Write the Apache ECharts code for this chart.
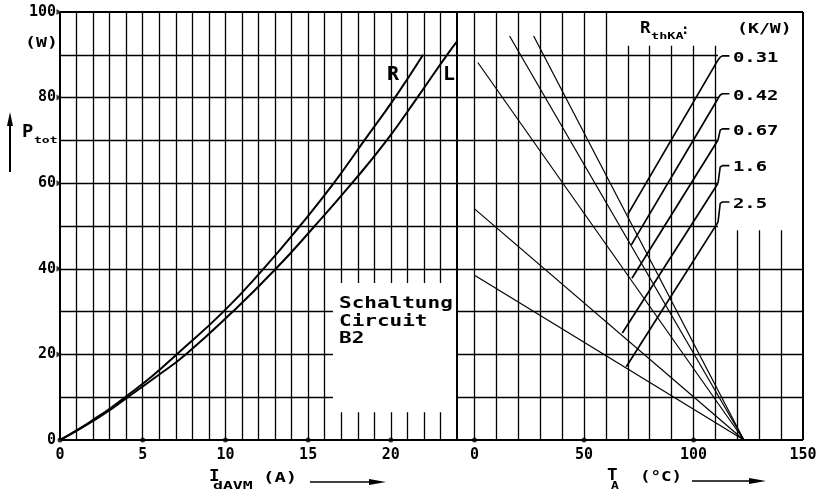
<!DOCTYPE html>
<html>
<head>
<meta charset="utf-8">
<script src="https://cdn.jsdelivr.net/npm/echarts@6/dist/echarts.min.js"></script>
<style>
html, body { margin: 0; padding: 0; background: #fff; }
#myChart { width: 822px; height: 491px; }
</style>
</head>
<body>
<div id="myChart"></div>
<script>
// Achsenteilung
const iTicks = [0, 5, 10, 15, 20]
const tTicks = [0, 50, 100, 150]
const pTicks = [0, 20, 40, 60, 80, 100]

// P_tot (W) über I_dAVM (A), Schaltung B2
const curveR = [[0, 0], [1, 2.25], [2, 4.7], [3, 7.3], [3.93, 10], [5.6, 15], [7.05, 20], [9.88, 30], [12.3, 40], [14.5, 50], [16.55, 60], [18.4, 70], [20.25, 80], [21.95, 90]]
const curveL = [[0, 0], [1, 2.15], [2, 4.45], [3, 6.95], [3.95, 9.6], [5.75, 14.6], [7.6, 20], [10.45, 30], [13.05, 40], [15.4, 50], [17.65, 60], [19.75, 70], [21.6, 80], [23.4, 90], [24.2, 94.1]]

// P_tot (W) über T_A (°C) für R_thKA
const rthKA = ['0.31', '0.42', '0.67', '1.6', '2.5']
const sinkStart = [[27, 94.4], [16, 94.4], [1.5, 88.2], [0, 54.0], [0, 38.5]]
const sinkEnd = [123, 0]
const leaderFrom = [[70, 52.7], [71.6, 45.6], [71.9, 37.8], [67.5, 25.0], [69.3, 17.1]]
const leaderTo = [[111.2, 88.8], [111.2, 79.8], [111.2, 70.1], [111.2, 60.0], [111.2, 50.9]]
const labelP = [89.25, 80.4, 72.2, 63.6, 55.1]

const ink = '#000'
const mono = '"DejaVu Sans Mono", monospace'

function seg (a, b) { return { coords: [a, b] } }

// Gitter links
const leftGrid = []
for (let i = 1; i <= 23; i++) {
  if (i >= 17) {
    leftGrid.push(seg([i, 0], [i, 6.5]), seg([i, 36.7], [i, 100]))
  } else {
    leftGrid.push(seg([i, 0], [i, 100]))
  }
}
for (let p = 10; p <= 90; p += 10) {
  leftGrid.push(seg([0, p], [p <= 30 ? 16.5 : 24, p]))
}
const leftFrame = [seg([0, 0], [24, 0]), seg([0, 0], [0, 100]), seg([0, 100], [24, 100]), seg([24, 0], [24, 100])]

// Gitter rechts
const rightGrid = []
for (let t = 0; t <= 140; t += 10) {
  let top = t <= 60 ? 100 : (t <= 110 ? 92.1 : 49)
  rightGrid.push(seg([t, 0], [t, top]))
}
for (let p = 10; p <= 90; p += 10) {
  rightGrid.push(seg([-8, p], [p <= 40 ? 150 : 111.2, p]))
}
const rightFrame = [seg([-8, 0], [150, 0]), seg([-8, 100], [150, 100]), seg([150, 0], [150, 100])]

function gridLines (data, xi, width) {
  return {
    type: 'lines', coordinateSystem: 'cartesian2d', xAxisIndex: xi, yAxisIndex: xi,
    silent: true, data: data,
    lineStyle: { color: ink, width: width, opacity: 1, curveness: 0 }
  }
}

function txt (s, x, y, size, sx) {
  return {
    type: 'text', x: x, y: y, scaleX: sx || 1.35, silent: true,
    style: { text: s, font: 'bold ' + size + 'px ' + mono, fill: ink, align: 'left', verticalAlign: 'middle' }
  }
}

let axisFont = { color: ink, fontFamily: mono, fontWeight: 'bold', fontSize: 15 }

let myChart = echarts.init(document.getElementById('myChart'))
myChart.setOption({
  animation: false,
  backgroundColor: '#fff',
  grid: [
    { left: 60, top: 12, width: 397, height: 428 },
    { left: 457, top: 12, width: 346, height: 428 }
  ],
  xAxis: [
    {
      gridIndex: 0, type: 'value', min: 0, max: 24,
      axisLine: { show: false }, axisTick: { show: false }, splitLine: { show: false },
      axisLabel: Object.assign({ customValues: iTicks, margin: 8 }, axisFont)
    },
    {
      gridIndex: 1, type: 'value', min: -8, max: 150,
      axisLine: { show: false }, axisTick: { show: false }, splitLine: { show: false },
      axisLabel: Object.assign({ customValues: tTicks, margin: 8 }, axisFont)
    }
  ],
  yAxis: [
    {
      gridIndex: 0, type: 'value', min: 0, max: 100, interval: 20,
      axisLine: { show: false }, axisTick: { show: false }, splitLine: { show: false },
      axisLabel: Object.assign({ customValues: pTicks, margin: 4 }, axisFont)
    },
    {
      gridIndex: 1, type: 'value', min: 0, max: 100, show: false,
      splitLine: { show: false }
    }
  ],
  series: [
    gridLines(leftGrid, 0, 1.3),
    gridLines(rightGrid, 1, 1.3),
    gridLines(leftFrame, 0, 2),
    gridLines(rightFrame, 1, 2),
    {
      name: 'R', type: 'line', xAxisIndex: 0, yAxisIndex: 0, data: curveR,
      smooth: true, symbol: 'none', clip: false,
      lineStyle: { color: ink, width: 2 }
    },
    {
      name: 'L', type: 'line', xAxisIndex: 0, yAxisIndex: 0, data: curveL,
      smooth: true, symbol: 'none', clip: false,
      lineStyle: { color: ink, width: 2 }
    },
    {
      type: 'lines', coordinateSystem: 'cartesian2d', xAxisIndex: 1, yAxisIndex: 1, silent: true,
      data: sinkStart.map(s => seg(s, sinkEnd)),
      lineStyle: { color: ink, width: 1.2, opacity: 1 }
    },
    {
      type: 'lines', coordinateSystem: 'cartesian2d', xAxisIndex: 1, yAxisIndex: 1, silent: true,
      data: leaderFrom.map((s, k) => seg(s, leaderTo[k])),
      lineStyle: { color: ink, width: 1.7, opacity: 1 }
    },
    // Haken zur Beschriftung
    ...leaderTo.map((e, k) => ({
      type: 'line', xAxisIndex: 1, yAxisIndex: 1, silent: true, clip: false,
      data: [e, [112.2, labelP[k] + 0.2], [113.2, labelP[k] + 0.5], [116.4, labelP[k] + 0.5]],
      smooth: false, symbol: 'none',
      lineStyle: { color: ink, width: 1.6, join: 'round' }
    })),
    {
      type: 'scatter', xAxisIndex: 0, yAxisIndex: 0, silent: true, clip: false,
      data: iTicks.map(i => [i, 0]), symbol: 'circle', symbolSize: 5,
      itemStyle: { color: ink }
    },
    {
      type: 'scatter', xAxisIndex: 1, yAxisIndex: 1, silent: true, clip: false,
      data: tTicks.slice(0, 3).map(t => [t, 0]), symbol: 'circle', symbolSize: 5,
      itemStyle: { color: ink }
    },
    {
      type: 'scatter', xAxisIndex: 0, yAxisIndex: 0, silent: true, clip: false,
      data: pTicks.slice(1).map(p => [0, p]), symbol: 'triangle', symbolSize: [6, 5],
      symbolRotate: -90, symbolOffset: [-1, 0],
      itemStyle: { color: ink }
    }
  ]
})

// Beschriftungen
const px = p => myChart.convertToPixel({ xAxisIndex: 1, yAxisIndex: 1 }, p)
const labels = rthKA.map((r, k) => {
  let q = px([118, labelP[k]])
  return txt(r, q[0], q[1], 14, 1.35)
})

myChart.setOption({
  graphic: [
    txt('(W)', 25, 43, 14, 1.3),
    txt('P', 22, 133, 17, 1.1),
    txt('tot', 34, 141, 9, 1.45),
    { type: 'line', silent: true, shape: { x1: 10, y1: 172, x2: 10, y2: 122 }, style: { stroke: ink, lineWidth: 2 } },
    { type: 'polygon', silent: true, shape: { points: [[10, 112], [7, 126], [13, 126]] }, style: { fill: ink } },
    txt('I', 209, 477, 16, 1.1),
    txt('dAVM', 213, 486, 10, 1.65),
    txt('(A)', 263, 478, 14, 1.35),
    { type: 'line', silent: true, shape: { x1: 310, y1: 482, x2: 372, y2: 482 }, style: { stroke: ink, lineWidth: 1.6 } },
    { type: 'polygon', silent: true, shape: { points: [[386, 482], [369, 479], [369, 485]] }, style: { fill: ink } },
    txt('T', 607, 476, 16, 1.1),
    txt('A', 611, 486, 10, 1.3),
    txt('(°C)', 640, 477, 14, 1.25),
    { type: 'line', silent: true, shape: { x1: 692, y1: 481, x2: 752, y2: 481 }, style: { stroke: ink, lineWidth: 1.6 } },
    { type: 'polygon', silent: true, shape: { points: [[766, 481], [749, 478], [749, 484]] }, style: { fill: ink } },
    txt('R', 387, 75, 19, 1.05),
    txt('L', 443, 75, 19, 1.05),
    txt('Schaltung', 339, 304, 15, 1.4),
    txt('Circuit', 339, 322, 15, 1.4),
    txt('B2', 339, 339, 15, 1.4),
    txt('R', 640, 29, 16, 1.1),
    txt('thKA', 651, 37, 9, 1.5),
    txt(':', 681, 30, 14, 1),
    txt('(K/W)', 737, 29, 14, 1.3),
    ...labels
  ]
})
</script>
</body>
</html>
